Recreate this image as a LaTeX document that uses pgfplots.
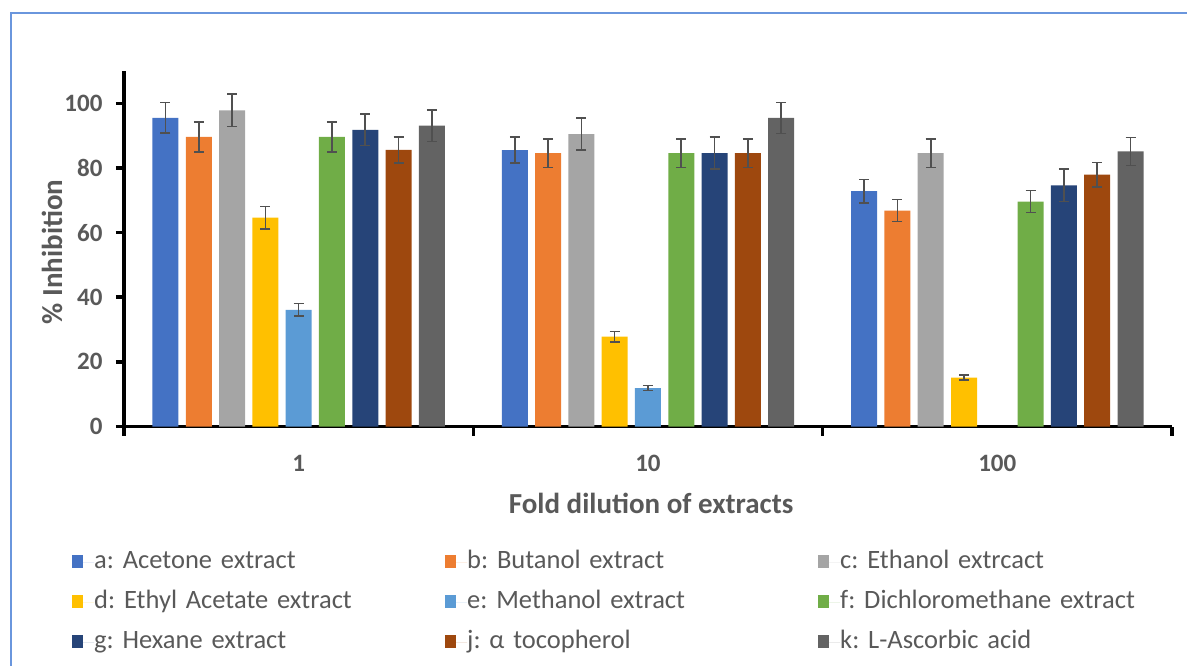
\documentclass[border=0pt]{standalone}
\usepackage{pgfplots}
\pgfplotsset{compat=1.18}
\usepackage{fontspec}
\setmainfont{Carlito}
\frenchspacing
\definecolor{cA}{HTML}{4472C4}
\definecolor{cB}{HTML}{ED7D31}
\definecolor{cC}{HTML}{A5A5A5}
\definecolor{cD}{HTML}{FFC000}
\definecolor{cE}{HTML}{5B9BD5}
\definecolor{cF}{HTML}{70AD47}
\definecolor{cG}{HTML}{264478}
\definecolor{cJ}{HTML}{9E480E}
\definecolor{cK}{HTML}{636363}
\definecolor{txt}{HTML}{595959}
\definecolor{errc}{HTML}{505050}
\definecolor{framec}{HTML}{6A96DD}
\pgfplotsset{sqlegend/.style={legend image code/.code={\fill[##1,draw=none] (0bp,-6bp) rectangle (11bp,7bp); \path (0bp,0bp) -- (22bp,0bp);}}}
\begin{document}
\begin{tikzpicture}
\useasboundingbox (0bp,0bp) rectangle (1187bp,666bp);
\draw[framec, line width=2bp] (10.5bp,0bp) -- (10.5bp,653bp) -- (1187bp,653bp);
\begin{axis}[
  at={(124bp,239.5bp)}, anchor=south west,
  scale only axis, width=1048bp, height=355.5bp,
  xmin=-0.5, xmax=2.5, ymin=0, ymax=110,
  axis x line=bottom, axis y line=left,
  axis line style={-, line width=3.5bp, black},
  ytick={0,20,...,100},
  xtick={0,1,2}, xticklabels={1,10,100},
  minor xtick={-0.5,0.5,1.5,2.5},
  tick align=outside, major tick length=8bp, minor tick length=9bp,
  major x tick style={draw=none},
  major y tick style={line width=3.5bp, black},
  minor x tick style={line width=3.5bp, black},
  ybar=7.3bp, bar width=26bp,
  error bars/y dir=both, error bars/y explicit,
  error bars/error bar style={line width=1.6bp, color=errc},
  error bars/error mark options={rotate=90, mark size=5bp, line width=1.6bp, color=errc},
  /pgf/number format/assume math mode=true,
  ticklabel style={font=\bfseries\fontsize{25bp}{29bp}\selectfont, text=txt},
  yticklabel style={xshift=-10bp},
  xticklabel style={yshift=-17bp},
  xlabel={Fold dilution of extracts},
  ylabel={\% Inhibition},
  label style={font=\bfseries\fontsize{29bp}{34bp}\selectfont, text=txt},
  xlabel style={at={(axis description cs:0.503,-0.215)}, anchor=center},
  ylabel style={at={(axis description cs:-0.0687,0.491)}, anchor=center},
  legend columns=3, legend cell align=left,
  legend style={at={(axis description cs:-0.0496,-0.346)}, anchor=north west, draw=none, fill=none, inner sep=0pt, row sep=15bp, column sep=0pt, font=\fontsize{26.5bp}{30bp}\selectfont, text=txt, nodes={inner sep=0pt, text width=351bp, text height=19bp, text depth=6bp}},
  every axis plot post/.append style={sqlegend},
]
\addplot[fill=cA, draw=none] coordinates {(0,95.5) +- (0,4.7) (1,85.5) +- (0,4.0) (2,72.8) +- (0,3.6)};
\addlegendentry{a: Acetone extract}
\addplot[fill=cB, draw=none] coordinates {(0,89.6) +- (0,4.7) (1,84.6) +- (0,4.4) (2,66.8) +- (0,3.4)};
\addlegendentry{b: Butanol extract}
\addplot[fill=cC, draw=none] coordinates {(0,97.8) +- (0,5.0) (1,90.5) +- (0,4.9) (2,84.6) +- (0,4.4)};
\addlegendentry{c: Ethanol extrcact}
\addplot[fill=cD, draw=none] coordinates {(0,64.6) +- (0,3.5) (1,27.8) +- (0,1.6) (2,15.1) +- (0,0.8)};
\addlegendentry{d: Ethyl Acetate extract}
\addplot[fill=cE, draw=none] coordinates {(0,36.1) +- (0,2.0) (1,11.9) +- (0,0.8)};
\addlegendentry{e: Methanol extract}
\addplot[fill=cF, draw=none] coordinates {(0,89.6) +- (0,4.7) (1,84.6) +- (0,4.4) (2,69.6) +- (0,3.4)};
\addlegendentry{f: Dichloromethane extract}
\addplot[fill=cG, draw=none] coordinates {(0,91.8) +- (0,4.9) (1,84.6) +- (0,5.0) (2,74.6) +- (0,5.0)};
\addlegendentry{g: Hexane extract}
\addplot[fill=cJ, draw=none] coordinates {(0,85.6) +- (0,4.0) (1,84.6) +- (0,4.4) (2,77.9) +- (0,3.8)};
\addlegendentry{j: α tocopherol}
\addplot[fill=cK, draw=none] coordinates {(0,93.1) +- (0,4.9) (1,95.5) +- (0,4.8) (2,85.1) +- (0,4.3)};
\addlegendentry{k: L-Ascorbic acid}
\end{axis}
\end{tikzpicture}
\end{document}
